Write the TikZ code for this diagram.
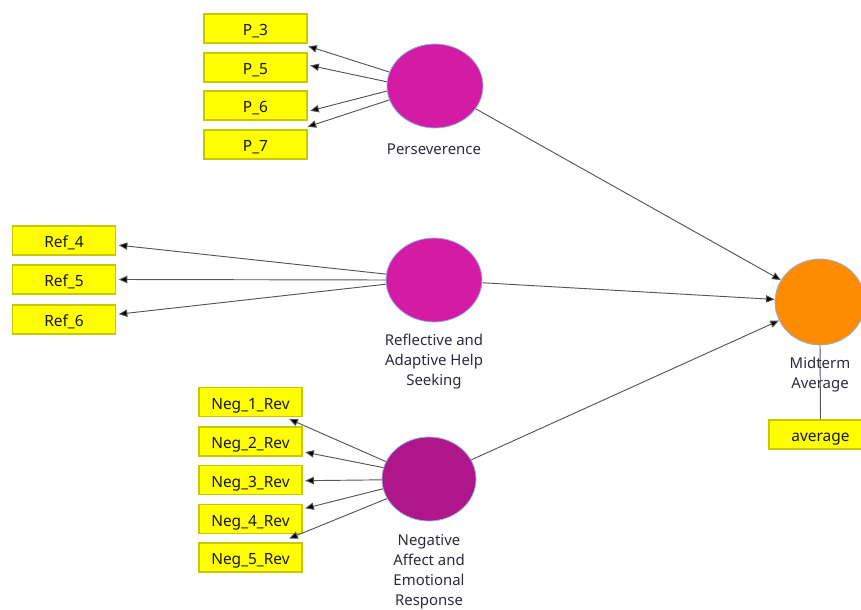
\documentclass[tikz,border=0pt]{standalone}
\usepackage{fontspec}
\setmainfont{Noto Sans}
\usetikzlibrary{arrows.meta,shapes.geometric}
\definecolor{boxfill}{HTML}{FFFF00}
\definecolor{boxline}{HTML}{C8C800}
\definecolor{lvpink}{HTML}{D41BA6}
\definecolor{lvpurple}{HTML}{B0168C}
\definecolor{lvorange}{HTML}{FF8C00}
\definecolor{lvrim}{HTML}{8EB4E3}
\definecolor{labeltext}{HTML}{2B2B3A}
\definecolor{linkgray}{HTML}{555555}
\tikzset{
  indicator/.style={draw=boxline, line width=0.8pt, fill=boxfill, minimum width=77.25pt,
    minimum height=21.75pt, inner sep=0pt, text height=11pt, text depth=0pt,
    font=\fontsize{11.6}{13}\selectfont, text=black!90},
  latent/.style={ellipse, draw=lvrim, line width=0.6pt, minimum width=72pt, minimum height=63pt, inner sep=0pt},
  lvlabel/.style={align=center, font=\fontsize{11.2}{15}\selectfont, text=labeltext, inner sep=0pt},
  link/.style={draw=linkgray, line width=0.7pt, -{Triangle[length=6.5pt,width=5.5pt,fill=black]}}
}
\begin{document}
\begin{tikzpicture}[x=0.75pt,y=-0.75pt]
\useasboundingbox (0,0) rectangle (861,610);
\clip (0,0) rectangle (861,610);

% latent variables
\node[latent, fill=lvpink] (per) at (435,86) {};
\node[latent, fill=lvpink] (ref) at (434,280) {};
\node[latent, fill=lvpurple, minimum width=70.5pt] (neg) at (429,479) {};
\node[latent, fill=lvorange, minimum width=67.5pt, minimum height=64.5pt] (mid) at (820,302) {};

\node[lvlabel] (perlab) at (434,149) {Perseverence};
\node[lvlabel] (reflab) at (434,362) {Reflective and\\Adaptive Help\\Seeking};
\node[lvlabel] (neglab) at (429,571.5) {Negative\\Affect and\\Emotional\\Response};

% indicators
\node[indicator] (p3) at (255.5,28.5) {P\_3};
\node[indicator] (p5) at (255.5,67.5) {P\_5};
\node[indicator] (p6) at (255.5,105.5) {P\_6};
\node[indicator] (p7) at (255.5,144.5) {P\_7};

\node[indicator] (r4) at (64,240.5) {Ref\_4};
\node[indicator] (r5) at (64,279.5) {Ref\_5};
\node[indicator] (r6) at (64,319.5) {Ref\_6};

\node[indicator] (n1) at (250.5,402) {Neg\_1\_Rev};
\node[indicator] (n2) at (250.5,441.5) {Neg\_2\_Rev};
\node[indicator] (n3) at (250.5,480) {Neg\_3\_Rev};
\node[indicator] (n4) at (250.5,519) {Neg\_4\_Rev};
\node[indicator] (n5) at (250.5,557.5) {Neg\_5\_Rev};

\node[indicator] (avg) at (820.5,434.5) {average};

% measurement links
\draw[link] (per.163) -- ([xshift=0.5pt,yshift=-2pt]p3.south east);
\draw[link] (per.175) -- ([xshift=2pt,yshift=1.5pt]p5.east);
\draw[link] (per.186) -- ([xshift=2pt,yshift=-4pt]p6.east);
\draw[link] (per.197) -- ([xshift=0pt,yshift=2pt]p7.north east);

\draw[link] (ref.173) -- ([xshift=2pt,yshift=-3.5pt]r4.east);
\draw[link] (ref.180) -- ([xshift=2pt]r5.east);
\draw[link] (ref.185) -- ([xshift=2pt,yshift=4pt]r6.east);

\draw[link] (neg.158) -- ([xshift=-10pt,yshift=-1.5pt]n1.south east);
\draw[link] (neg.166) -- ([xshift=2pt,yshift=-8pt]n2.east);
\draw[link] (neg.181) -- ([xshift=2pt,yshift=-0.5pt]n3.east);
\draw[link] (neg.192.5) -- ([xshift=2pt,yshift=8pt]n4.east);
\draw[link] (neg.205) -- ([xshift=-10pt,yshift=3pt]n5.north east);

\draw[draw=linkgray, line width=0.7pt] (mid.south) -- (avg.north);
\node[lvlabel] (midlab) at (820,375) {Midterm\\Average};

% structural links
\draw[link] (per) -- (mid);
\draw[link] (ref) -- (mid);
\draw[link] (neg) -- (mid);
\end{tikzpicture}
\end{document}
